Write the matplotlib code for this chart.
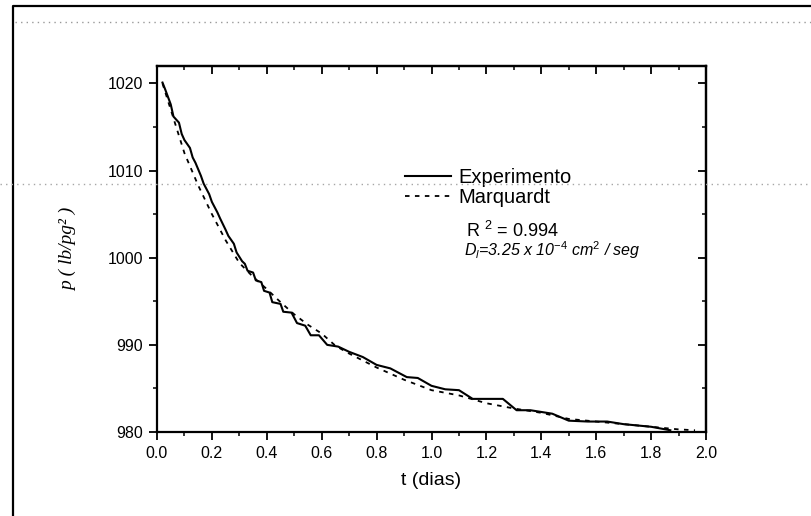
#!/usr/bin/env python3

import matplotlib
matplotlib.use("Agg")
import matplotlib.pyplot as plt
from matplotlib.lines import Line2D
from matplotlib.ticker import MultipleLocator

plt.rcParams['font.family'] = ['Liberation Sans', 'DejaVu Sans']
plt.rcParams['mathtext.fontset'] = 'custom'
plt.rcParams['mathtext.rm'] = 'Liberation Sans'
plt.rcParams['mathtext.it'] = 'Liberation Sans:italic'

# --- Data ---
exp_t = [0.02, 0.03, 0.05, 0.06, 0.08, 0.09, 0.10, 0.12, 0.13, 0.14,
         0.16, 0.17, 0.19, 0.20, 0.22, 0.23, 0.25, 0.26, 0.28, 0.29,
         0.31, 0.32, 0.33, 0.35, 0.36, 0.38, 0.39, 0.41, 0.42, 0.45,
         0.46, 0.49, 0.51, 0.54, 0.56, 0.59, 0.62, 0.66, 0.70, 0.75,
         0.80, 0.85, 0.91, 0.95, 1.00, 1.05, 1.10, 1.15, 1.26, 1.31,
         1.36, 1.44, 1.50, 1.57, 1.64, 1.70, 1.80, 1.87]
exp_p = [1020.1, 1019.3, 1017.6, 1016.2, 1015.5, 1014.2, 1013.5, 1012.6, 1011.5, 1010.9,
         1009.4, 1008.5, 1007.3, 1006.4, 1005.2, 1004.5, 1003.2, 1002.5, 1001.6, 1000.6,
         999.6, 999.3, 998.5, 998.3, 997.4, 997.2, 996.2, 996.0, 994.9, 994.7,
         993.8, 993.7, 992.5, 992.2, 991.1, 991.1, 990.0, 989.8, 989.2, 988.6,
         987.7, 987.3, 986.3, 986.2, 985.3, 984.9, 984.8, 983.8, 983.8, 982.5,
         982.5, 982.1, 981.3, 981.2, 981.2, 980.9, 980.6, 980.2]

fit_t = [0.02, 0.05, 0.10, 0.15, 0.20, 0.25, 0.30, 0.35, 0.40, 0.45,
         0.50, 0.55, 0.60, 0.65, 0.70, 0.80, 0.90, 1.00, 1.10, 1.20,
         1.30, 1.40, 1.50, 1.60, 1.70, 1.80, 1.90, 1.96]
fit_p = [1020.0, 1017.0, 1012.0, 1008.3, 1005.0, 1002.0, 999.4, 997.8, 996.4, 994.9,
         993.5, 992.3, 991.3, 989.9, 989.0, 987.4, 986.0, 984.8, 984.2, 983.3,
         982.7, 982.2, 981.5, 981.2, 980.9, 980.6, 980.3, 980.2]

x_ticks = [0.0, 0.2, 0.4, 0.6, 0.8, 1.0, 1.2, 1.4, 1.6, 1.8, 2.0]
x_tick_labels = ["0.0", "0.2", "0.4", "0.6", "0.8", "1.0", "1.2", "1.4", "1.6", "1.8", "2.0"]
y_ticks = [980, 990, 1000, 1010, 1020]

fig = plt.figure(figsize=(8.11, 5.16), dpi=100)
ax = fig.add_axes([157 / 811, 1 - 432 / 516, 549 / 811, 366 / 516])

ax.plot(exp_t, exp_p, color='black', linewidth=1.5, linestyle='-', label='Experimento')
ax.plot(fit_t, fit_p, color='black', linewidth=1.3, linestyle=(0, (2.5, 3)), label='Marquardt')

ax.set_xlim(0.0, 2.0)
ax.set_ylim(980, 1022)

ax.set_xticks(x_ticks)
ax.set_xticklabels(x_tick_labels)
ax.xaxis.set_minor_locator(MultipleLocator(0.1))
ax.set_yticks(y_ticks)
ax.yaxis.set_minor_locator(MultipleLocator(5))

ax.tick_params(which='major', direction='out', length=6, width=1.3, labelsize=11.5, pad=4)
ax.tick_params(which='minor', direction='out', length=3, width=1.1)

# mirrored ticks on top/right pointing inward
top = ax.secondary_xaxis('top')
top.set_xticks(x_ticks)
top.xaxis.set_minor_locator(MultipleLocator(0.1))
top.tick_params(which='major', direction='in', length=6, width=1.3, labeltop=False)
top.tick_params(which='minor', direction='in', length=3, width=1.1)
right = ax.secondary_yaxis('right')
right.set_yticks(y_ticks)
right.yaxis.set_minor_locator(MultipleLocator(5))
right.tick_params(which='major', direction='in', length=6, width=1.3, labelright=False)
right.tick_params(which='minor', direction='in', length=3, width=1.1)
for sp in list(ax.spines.values()) + [top.spines['top'], right.spines['right']]:
    sp.set_linewidth(1.6)

ax.set_xlabel("t (dias)", fontsize=14)
ax.xaxis.set_label_coords(0.5, -0.108)
ax.set_ylabel("p ( lb/pg² )", fontsize=14, family='Liberation Serif', style='italic')
ax.yaxis.set_label_coords(-0.145, 0.5)

ax.legend(loc='upper left', bbox_to_anchor=(0.452, 0.722), frameon=False,
          fontsize=14.5, handlelength=2.3, handletextpad=0.35, labelspacing=0.05,
          borderpad=0, borderaxespad=0)

ax.text(0.563, 0.549, r"R $^{2}$ = 0.994", transform=ax.transAxes, fontsize=13,
        va='center', ha='left')
ax.text(0.559, 0.497, r"$D_l$=3.25 x 10$^{-4}$ cm$^{2}$ / seg", transform=ax.transAxes,
        fontsize=11.5, style='italic', va='center', ha='left')

# page border of the scan
fig.add_artist(Line2D([13 / 811, 13 / 811, 1.0], [0.0, 1 - 6 / 516, 1 - 6 / 516],
                      color='black', linewidth=1.6, transform=fig.transFigure))
# faint dotted scan lines
fig.add_artist(Line2D([15 / 811, 1.0], [1 - 22 / 516, 1 - 22 / 516], color='0.6',
                      linewidth=1.0, linestyle=(0, (1, 3)), transform=fig.transFigure))
fig.add_artist(Line2D([0.0, 1.0], [1 - 184 / 516, 1 - 184 / 516], color='0.65',
                      linewidth=1.0, linestyle=(0, (1, 3)), transform=fig.transFigure))

plt.savefig("out.png", dpi=100)
